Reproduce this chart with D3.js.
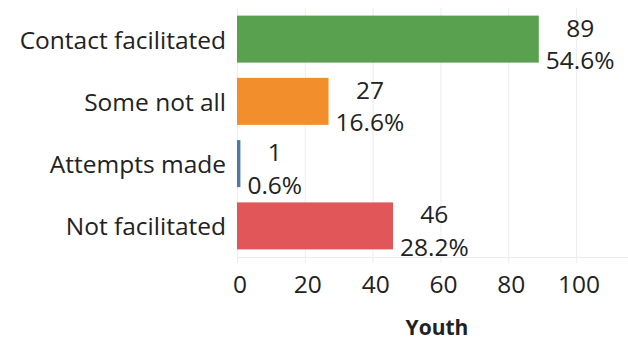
<!DOCTYPE html>
<html><head><meta charset="utf-8">
<script src="https://cdn.jsdelivr.net/npm/d3@7"></script>
<style>body{margin:0;background:#fff}svg{display:block}</style>
</head><body>
<svg id="c" width="628" height="341"></svg>
<script>
const categories = ["Contact facilitated", "Some not all", "Attempts made", "Not facilitated"];
const counts = [89, 27, 1, 46];
const percents = ["54.6%", "16.6%", "0.6%", "28.2%"];
const colors = ["#59A14F", "#F28E2B", "#4E79A7", "#E15759"];
const xTicks = [0, 20, 40, 60, 80, 100];
const xTitle = "Youth";

(function () {
const svg = d3.select("#c");
const font = "'Open Sans', sans-serif";
const fs = 24.5;
const ink = "#222";
const pl = 237, pr = 628, pt = 8, pb = 257;
const x = d3.scaleLinear().domain([0, 115.3]).range([pl, pr]);
const y = d3.scaleBand().domain(categories).range([pt, pb]).paddingInner(0.245).paddingOuter(0.122);

// gridlines
svg.append("g").selectAll("line").data(xTicks).join("line")
  .attr("x1", d => x(d) + 0.5).attr("x2", d => x(d) + 0.5)
  .attr("y1", pt).attr("y2", pb + 6)
  .attr("stroke", "#ececec").attr("stroke-width", 1);
svg.append("line").attr("x1", pl).attr("x2", pr)
  .attr("y1", pb + 0.5).attr("y2", pb + 0.5)
  .attr("stroke", "#ececec");

// bars
svg.append("g").selectAll("rect").data(categories).join("rect")
  .attr("x", x(0)).attr("y", d => y(d))
  .attr("width", (d, i) => x(counts[i]) - x(0))
  .attr("height", y.bandwidth())
  .attr("fill", (d, i) => colors[i]);

// category labels
svg.append("g").selectAll("text").data(categories).join("text")
  .attr("x", 226).attr("y", d => y(d) + y.bandwidth() / 2 + 9.5)
  .attr("text-anchor", "end")
  .attr("font-family", font).attr("font-size", fs).attr("fill", ink)
  .text(d => d);

// value labels
const lab = svg.append("g");
categories.forEach((c, i) => {
  const g = lab.append("g");
  const t2 = g.append("text").attr("font-family", font).attr("font-size", fs).attr("fill", ink)
    .attr("text-anchor", "middle").text(percents[i]);
  const w = t2.node().getComputedTextLength();
  const cx = x(counts[i]) + 7 + w / 2;
  const cy = y(c) + y.bandwidth() / 2;
  t2.attr("x", cx).attr("y", cy + 30);
  g.append("text").attr("font-family", font).attr("font-size", fs).attr("fill", ink)
    .attr("text-anchor", "middle").attr("x", cx).attr("y", cy - 2.5).text(counts[i]);
});

// axis tick labels
svg.append("g").selectAll("text").data(xTicks).join("text")
  .attr("x", d => x(d) + 3).attr("y", 293)
  .attr("text-anchor", "middle")
  .attr("font-family", font).attr("font-size", fs).attr("fill", ink)
  .text(d => d);

svg.append("text").attr("x", 437).attr("y", 335)
  .attr("text-anchor", "middle").attr("font-family", font).attr("font-size", 21)
  .attr("font-weight", "bold").attr("fill", ink).text(xTitle);
})();
</script>
</body></html>
